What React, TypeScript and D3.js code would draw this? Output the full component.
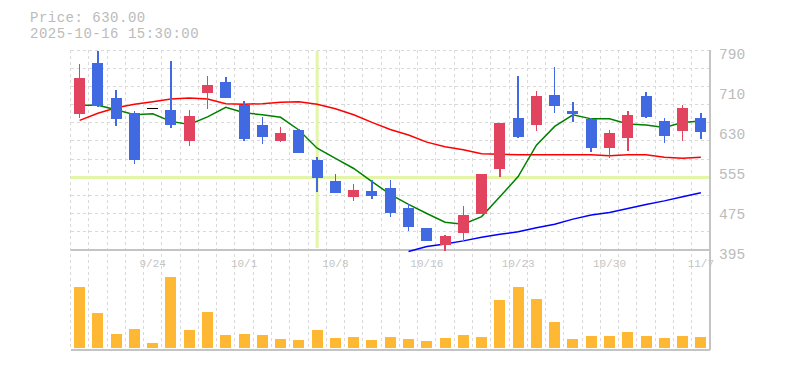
import React from "react";
import * as d3 from "d3";

// trading days shown on the chart
const dates = [
  "9/17", "9/18", "9/19", "9/22", "9/24", "9/25", "9/26", "9/29", "9/30", "10/1",
  "10/2", "10/3", "10/6", "10/7", "10/8", "10/9", "10/10", "10/14", "10/15", "10/16",
  "10/17", "10/20", "10/21", "10/22", "10/23", "10/24", "10/27", "10/28", "10/29", "10/30",
  "10/31", "11/4", "11/5", "11/6", "11/7",
];
const dateLabels = ["9/24", "10/1", "10/8", "10/16", "10/23", "10/30", "11/7"];

const openPrices = [664, 764, 696, 666, 674, 672, 611, 706, 727, 681, 642, 611, 632, 573, 531, 500, 512, 518, 478, 439, 405, 429, 467, 554, 656, 641, 701, 670, 654, 597, 617, 699, 650, 631, 656];
const highPrices = [762, 789, 711, 670, 674, 769, 672, 739, 737, 689, 658, 638, 633, 579, 545, 525, 533, 534, 485, 439, 425, 482, 545, 646, 739, 709, 756, 687, 656, 632, 670, 707, 656, 681, 666];
const lowPrices = [656, 677, 640, 565, 674, 636, 601, 674, 696, 611, 605, 608, 587, 510, 508, 492, 496, 461, 433, 413, 394, 413, 467, 540, 617, 631, 666, 648, 589, 576, 591, 656, 607, 611, 615];
const closePrices = [735, 679, 654, 573, 674, 642, 660, 721, 696, 615, 619, 626, 587, 538, 508, 514, 502, 469, 441, 413, 423, 464, 545, 646, 619, 699, 680, 664, 597, 626, 662, 658, 621, 676, 629];

// moving averages
const ma5 = [681, 681, 672, 662, 664, 649, 643, 658, 677, 666, 662, 657, 632, 596, 576, 556, 530, 505, 485, 467, 450, 446, 461, 500, 540, 602, 639, 662, 654, 654, 644, 642, 637, 647, 650];
const ma25 = [651, 665, 676, 683, 688, 693, 695, 693, 684, 683, 684, 687, 688, 683, 674, 662, 647, 633, 622, 608, 599, 593, 585, 584, 583, 583, 583, 583, 583, 581, 583, 583, 578, 576, 578];
const ma75 = [null, null, null, null, null, null, null, null, null, null, null, null, null, null, null, null, null, null, 392, 402, 407, 413, 420, 426, 431, 439, 446, 456, 464, 469, 477, 485, 492, 500, 508];

// volume, thousands of shares
const volumes = [182, 104, 41, 56, 14, 212, 53, 107, 38, 41, 38, 26, 23, 53, 29, 32, 23, 32, 27, 20, 29, 38, 32, 143, 182, 146, 77, 27, 35, 35, 47, 35, 29, 35, 32];

const priceTicks = [395, 474, 553, 632, 711, 790];

const plotLeft = 70.5;
const plotRight = 710;
const priceTop = 50;
const priceBottom = 250;
const volBottom = 350;
const FONT = "'Liberation Mono', 'DejaVu Sans Mono', monospace";

export default function App() {
  const x = d3.scaleBand().domain(dates).range([plotLeft, plotRight]);
  const bw = x.bandwidth();
  const cx = (i) => x(dates[i]) + bw / 2;
  const y = d3.scaleLinear().domain([395, 790]).range([priceBottom, priceTop]);
  const yVol = d3.scaleLinear().domain([0, 240]).range([348, 268]);

  const gridVals = d3.range(11).map(k => 395 + (k + 1) * 395 / 11);
  const line = d3.line().defined(d => d[1] != null).x(d => cx(d[0])).y(d => y(d[1]));
  const toPts = arr => arr.map((v, i) => [i, v]);

  const candleW = 11;

  return (
    <svg width={785} height={370} style={{ position: "absolute", left: 0, top: 0, background: "#fff" }}>
      {/* info */}
      <text x={30} y={22} fontFamily={FONT} fontSize={14} letterSpacing={0.5} fill="#bbb">Price: 630.00</text>
      <text x={30} y={38} fontFamily={FONT} fontSize={14} letterSpacing={0.5} fill="#bbb">2025-10-16 15:30:00</text>

      {/* grid */}
      <g stroke="#d9d9d9" strokeDasharray="3,3" strokeWidth={1} shapeRendering="crispEdges">
        {gridVals.map((v, i) => (
          <line key={"h" + i} x1={plotLeft} x2={plotRight} y1={y(v)} y2={y(v)} />
        ))}
        {dates.map((d, i) => (
          <line key={"v" + i} x1={x(d)} x2={x(d)} y1={priceTop} y2={volBottom} />
        ))}
      </g>

      {/* crosshair */}
      <line x1={cx(13)} x2={cx(13)} y1={priceTop + 1} y2={priceBottom - 2} stroke="#e3f5a6" strokeWidth={3} />
      <line x1={plotLeft} x2={plotRight} y1={177.5} y2={177.5} stroke="#e3f5a6" strokeWidth={3} />

      {/* frame */}
      <g stroke="#c4c4c4" strokeWidth={1.5} shapeRendering="crispEdges">
        <line x1={plotLeft} x2={plotRight} y1={priceBottom} y2={priceBottom} />
        <line x1={plotLeft} x2={plotRight} y1={volBottom} y2={volBottom} />
        <line x1={plotRight} x2={plotRight} y1={priceTop} y2={volBottom} />
      </g>

      {/* y labels */}
      {priceTicks.map((t, i) => (
        <text key={i} x={719} y={y(t) + 8.5} fontFamily={FONT} fontSize={14.5} fill="#bbb">
          {Math.round(t / 5) * 5}
        </text>
      ))}

      {/* x labels */}
      {dateLabels.map((d, i) => (
        <text key={i} x={cx(dates.indexOf(d))} y={266.5} textAnchor="middle" fontFamily={FONT} fontSize={11} fill="#c4c4c4">
          {d}
        </text>
      ))}

      {/* volume */}
      {volumes.map((v, i) => (
        <rect key={i} x={cx(i) - candleW / 2} y={yVol(v)} width={candleW} height={yVol(0) - yVol(v)} fill="#ffb833" shapeRendering="crispEdges" />
      ))}

      {/* moving averages */}
      <path d={line(toPts(ma25))} fill="none" stroke="#ff0000" strokeWidth={1.5} />
      <path d={line(toPts(ma5))} fill="none" stroke="#008000" strokeWidth={1.5} />
      <path d={line(toPts(ma75))} fill="none" stroke="#0000ff" strokeWidth={1.5} />

      {/* candles */}
      {dates.map((d, i) => {
        const o = openPrices[i], c = closePrices[i];
        const col = c > o ? "#e2435e" : c < o ? "#4169e1" : "#000";
        const top = y(Math.max(o, c));
        const bot = y(Math.min(o, c));
        return (
          <g key={i} shapeRendering="crispEdges">
            <line x1={cx(i)} x2={cx(i)} y1={y(highPrices[i])} y2={y(lowPrices[i])} stroke={col} strokeWidth={1.5} />
            {c === o
              ? <line x1={cx(i) - candleW / 2} x2={cx(i) + candleW / 2} y1={top} y2={top} stroke={col} strokeWidth={1.5} />
              : <rect x={cx(i) - candleW / 2} y={top} width={candleW} height={bot - top} fill={col} />}
          </g>
        );
      })}
    </svg>
  );
}
